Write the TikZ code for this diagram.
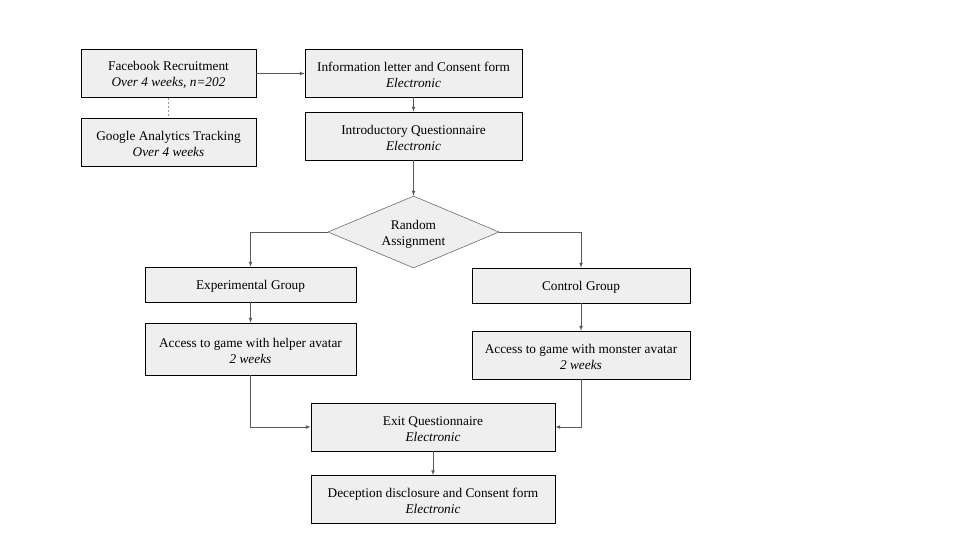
\documentclass[tikz,border=0pt]{standalone}
\usepackage{fontspec}
\setmainfont{Liberation Serif}
\usetikzlibrary{arrows,positioning,calc,shapes.geometric}
\definecolor{boxFill}{HTML}{EFEFEF}
\definecolor{lineGray}{HTML}{595959}

\begin{document}
\begin{tikzpicture}[x=1pt, y=-1pt,
				      every node/.style={align=center, font=\fontsize{13.3}{16}\selectfont, text height=29pt},
				      stepBox/.style={draw, fill=boxFill, line width=0.6pt, minimum height=48pt, inner sep=0pt},  % plain boxes
				      oneLine/.style={text height=13pt, minimum height=35pt},  % single row of text
				      decisionBox/.style={draw, fill=boxFill, shape=diamond, aspect=2.375, line width=0.5pt, draw=lineGray, minimum width=171pt, minimum height=72pt, inner sep=0pt},
				      flowArrow/.style={draw=lineGray, line width=0.7pt, -latex},
				      dotLink/.style={draw=lineGray!60, line width=0.6pt, dash pattern=on 2pt off 2pt}
			      ]
			      \useasboundingbox (0,0) rectangle (960,540);

			      % Recruitment column
			      \node[stepBox, minimum width=175pt] (FB) at (168.5,73.5) {Facebook Recruitment\\\textit{Over 4 weeks, n=202}};
			      \node[stepBox, minimum width=175pt] (GA) at (168.5,142) {Google Analytics Tracking\\\textit{Over 4 weeks}};

			      % Consent and intro
			      \node[stepBox, minimum width=217pt] (Info) at (413.5,73) {Information letter and Consent form\\\textit{Electronic}};
			      \node[stepBox, minimum width=217pt] (Intro) at (413.5,136) {Introductory Questionnaire\\\textit{Electronic}};
			      \node[decisionBox] (Rand) at (413.5,232) {Random\\Assignment};

			      % The two groups
			      \node[stepBox, oneLine, minimum width=211pt] (Exp) at (250.5,284.5) {Experimental Group};
			      \node[stepBox, oneLine, minimum width=218pt] (Ctrl) at (581,285.5) {Control Group};
			      \node[stepBox, minimum width=211pt, minimum height=52pt] (Helper) at (250.5,349) {Access to game with helper avatar\\\textit{2 weeks}};
			      \node[stepBox, minimum width=218pt] (Monster) at (581,355) {Access to game with monster avatar\\\textit{2 weeks}};

			      % Exit
			      \node[stepBox, minimum width=244pt] (Exit) at (433,427) {Exit Questionnaire\\\textit{Electronic}};
			      \node[stepBox, minimum width=244pt] (Decep) at (433,499.5) {Deception disclosure and Consent form\\\textit{Electronic}};

			      \draw[flowArrow] (FB.east) -- (FB.east -| Info.west);
			      \draw[dotLink] (FB) -- (GA);
			      \draw[flowArrow] (Info) -- (Intro);
			      \draw[flowArrow] (Intro) -- (Rand);
			      \draw[flowArrow] (Rand.west) -| (Exp);
			      \draw[flowArrow] (Rand.east) -| (Ctrl);
			      \draw[flowArrow] (Exp) -- (Helper);
			      \draw[flowArrow] (Ctrl) -- (Monster);
			      \draw[flowArrow] (Helper) |- (Exit);
			      \draw[flowArrow] (Monster) |- (Exit);
			      \draw[flowArrow] (Exit) -- (Decep);
		      \end{tikzpicture}
\end{document}
